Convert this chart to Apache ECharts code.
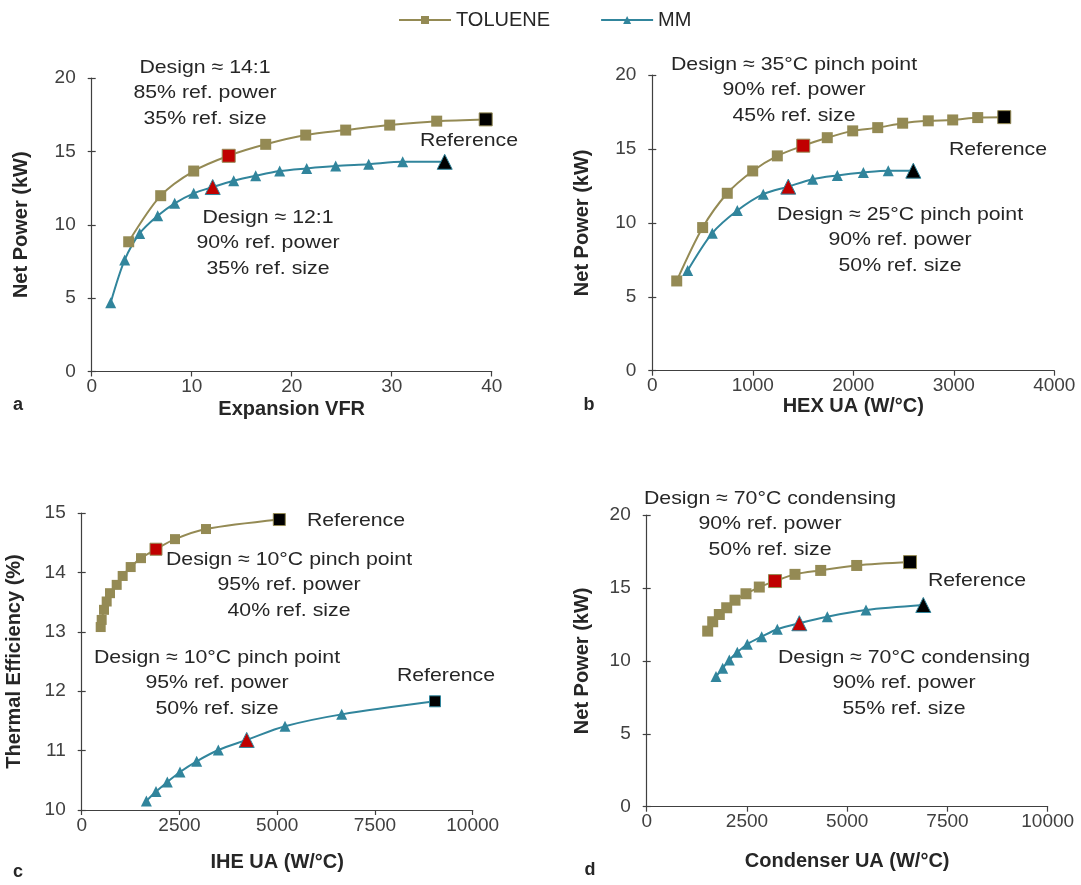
<!DOCTYPE html>
<html><head><meta charset="utf-8">
<script src="https://cdn.jsdelivr.net/npm/echarts@6/dist/echarts.min.js"></script>
<style>html,body{margin:0;padding:0;background:#fff}#c{width:1081px;height:885px}</style>
</head><body><div id="c"></div>
<script>
// ---- data ----
// Panel a: Net Power vs Expansion VFR
const aTolX = [3.7, 6.9, 10.2, 13.7, 17.4, 21.4, 25.4, 29.8, 34.5, 39.4];
const aTolY = [8.84, 11.98, 13.66, 14.7, 15.48, 16.11, 16.45, 16.79, 17.06, 17.18];
const aMmX = [1.9, 3.3, 4.8, 6.6, 8.3, 10.2, 12.1, 14.2, 16.4, 18.8, 21.5, 24.4, 27.7, 31.1, 35.3];
const aMmY = [4.69, 7.6, 9.41, 10.61, 11.46, 12.14, 12.57, 13.0, 13.34, 13.66, 13.84, 14.0, 14.13, 14.29, 14.29];
// Panel b: Net Power vs HEX UA
const bTolX = [243, 501, 746, 999, 1244, 1502, 1741, 1994, 2243, 2491, 2746, 2989, 3238, 3502];
const bTolY = [6.07, 9.68, 12.0, 13.51, 14.53, 15.22, 15.76, 16.22, 16.44, 16.74, 16.9, 16.96, 17.12, 17.15];
const bMmX = [352, 597, 846, 1104, 1353, 1596, 1841, 2100, 2348, 2597];
const bMmY = [6.77, 9.3, 10.83, 11.94, 12.45, 12.95, 13.2, 13.4, 13.53, 13.53];
// Panel c: Thermal efficiency vs IHE UA
const cTolX = [486, 511, 570, 639, 724, 895, 1048, 1253, 1517, 1900, 2386, 3179, 5054];
const cTolY = [13.08, 13.2, 13.37, 13.51, 13.65, 13.79, 13.94, 14.09, 14.24, 14.39, 14.56, 14.73, 14.89];
const cMmX = [1654, 1900, 2189, 2514, 2941, 3494, 4220, 5200, 6650, 9036];
const cMmY = [10.15, 10.31, 10.47, 10.64, 10.82, 11.01, 11.18, 11.41, 11.61, 11.83];
// Panel d: Net Power vs Condenser UA
const dTolX = [1521, 1646, 1811, 1995, 2202, 2476, 2808, 3200, 3698, 4339, 5237, 6566];
const dTolY = [12.04, 12.68, 13.18, 13.64, 14.16, 14.6, 15.06, 15.47, 15.93, 16.2, 16.54, 16.77];
const dMmX = [1728, 1895, 2060, 2259, 2509, 2868, 3257, 3806, 4504, 5469, 6898];
const dMmY = [8.92, 9.49, 10.06, 10.59, 11.14, 11.66, 12.17, 12.58, 13.03, 13.49, 13.83];
// design point index for each series (red marker); last point is the reference (black)
const designIdx = {aTol: 3, aMm: 6, bTol: 5, bMm: 4, cTol: 9, cMm: 6, dTol: 7, dMm: 7};
// axis ticks [min, max, interval]
const aXTicks = [0, 40, 10], aYTicks = [0, 20, 5];
const bXTicks = [0, 4000, 1000], bYTicks = [0, 20, 5];
const cXTicks = [0, 10000, 2500], cYTicks = [10, 15, 1];
const dXTicks = [0, 10000, 2500], dYTicks = [0, 20, 5];
const seriesNames = ['TOLUENE', 'MM'];
const panelTitles = {
  a: ['Expansion VFR', 'Net Power (kW)'],
  b: ['HEX UA (W/°C)', 'Net Power (kW)'],
  c: ['IHE UA (W/°C)', 'Thermal Efficiency (%)'],
  d: ['Condenser UA (W/°C)', 'Net Power (kW)']
};

// ---- styling ----
const FONT = 'Liberation Sans, Arial, sans-serif';
const TOL_C = '#948A54', MM_C = '#31859C';
const TXT = '#262626', AX = '#404040';

const grids = [
  {left: 91.7, top: 78, width: 400, height: 293.5},
  {left: 652.3, top: 75, width: 402, height: 295.7},
  {left: 81.7, top: 513, width: 391, height: 297},
  {left: 646.7, top: 515, width: 401, height: 291.7}
];
const xGaps = [28, 24, 42, 45];
const yGaps = [60, 60, 57, 54];
const keys = ['a', 'b', 'c', 'd'];
const xT = [aXTicks, bXTicks, cXTicks, dXTicks];
const yT = [aYTicks, bYTicks, cYTicks, dYTicks];

const xAxis = [], yAxis = [];
keys.forEach((k, i) => {
  xAxis.push({
    type: 'value', gridIndex: i, min: xT[i][0], max: xT[i][1], interval: xT[i][2],
    name: panelTitles[k][0], nameLocation: 'middle', nameGap: xGaps[i],
    nameTextStyle: {fontFamily: FONT, fontSize: 20, fontWeight: 'bold', color: TXT},
    axisLine: {show: true, onZero: false, lineStyle: {color: AX, width: 1.2}},
    axisTick: {show: true, inside: false, length: 5, lineStyle: {color: AX, width: 1.2}},
    axisLabel: {fontFamily: FONT, fontSize: 19, color: '#404040', margin: 6, formatter: v => String(v)},
    splitLine: {show: false}
  });
  yAxis.push({
    type: 'value', gridIndex: i, min: yT[i][0], max: yT[i][1], interval: yT[i][2],
    name: panelTitles[k][1], nameLocation: 'middle', nameGap: yGaps[i], nameRotate: 90,
    nameTextStyle: {fontFamily: FONT, fontSize: 20, fontWeight: 'bold', color: TXT},
    axisLine: {show: true, onZero: false, lineStyle: {color: AX, width: 1.2}},
    axisTick: {show: true, inside: false, length: 4, lineStyle: {color: AX, width: 1.2}},
    axisLabel: {fontFamily: FONT, fontSize: 19, color: '#404040', margin: 16, formatter: v => String(v)},
    splitLine: {show: false}
  });
});
// secondary y-axes to give "cross" tick marks
keys.forEach((k, i) => {
  yAxis.push({
    type: 'value', gridIndex: i, min: yT[i][0], max: yT[i][1], interval: yT[i][2], position: 'left',
    axisLine: {show: false}, axisLabel: {show: false}, splitLine: {show: false},
    axisTick: {show: true, inside: true, length: 4, lineStyle: {color: AX, width: 1.2}}
  });
});

function pts(xs, ys, di, color) {
  return xs.map((x, j) => {
    const d = {value: [x, ys[j]]};
    if (j === di) d.itemStyle = {color: '#C00000', borderColor: color, borderWidth: 1};
    if (j === xs.length - 1) d.itemStyle = {color: '#000000', borderColor: color, borderWidth: 1};
    return d;
  });
}

const series = [];
const dataSets = [
  [aTolX, aTolY, aMmX, aMmY],
  [bTolX, bTolY, bMmX, bMmY],
  [cTolX, cTolY, cMmX, cMmY],
  [dTolX, dTolY, dMmX, dMmY]
];
const tolSize = [11, 11, 10, 11];
const mmSize = [11, 11, 11, 11];
keys.forEach((k, i) => {
  const [tx, ty, mx, my] = dataSets[i];
  const tolData = pts(tx, ty, designIdx[k + 'Tol'], TOL_C);
  const mmData = pts(mx, my, designIdx[k + 'Mm'], MM_C);
  tolData.forEach(d => { d.symbolSize = (d.itemStyle ? tolSize[i] + 2 : tolSize[i]); });
  mmData.forEach(d => { d.symbolSize = (d.itemStyle ? mmSize[i] + 4 : mmSize[i]); });
  // panel c: MM reference marker is a square
  if (k === 'c') { mmData[mmData.length - 1].symbol = 'rect'; mmData[mmData.length - 1].symbolSize = 11; }
  series.push({
    name: seriesNames[0], type: 'line', xAxisIndex: i, yAxisIndex: i, data: tolData,
    smooth: 0.3, symbol: 'rect', symbolSize: tolSize[i], showAllSymbol: true,
    lineStyle: {color: TOL_C, width: 2}, itemStyle: {color: TOL_C}, z: 3, animation: false
  });
  series.push({
    name: seriesNames[1], type: 'line', xAxisIndex: i, yAxisIndex: i, data: mmData,
    smooth: 0.3, symbol: 'triangle', symbolSize: mmSize[i], showAllSymbol: true,
    lineStyle: {color: MM_C, width: 2}, itemStyle: {color: MM_C}, z: 3, animation: false
  });
});

function note(x, y, text) {
  return {type: 'text', x: x, y: y, scaleX: 1.12, scaleY: 1,
    style: {text: text, fill: TXT, font: '19px ' + FONT, textAlign: 'center', textVerticalAlign: 'middle', lineHeight: 25.5}};
}
const graphic = [
  note(205, 93, 'Design ≈ 14:1\n85% ref. power\n35% ref. size'),
  note(469, 141, 'Reference'),
  note(268, 243, 'Design ≈ 12:1\n90% ref. power\n35% ref. size'),
  note(794, 90, 'Design ≈ 35°C pinch point\n90% ref. power\n45% ref. size'),
  note(998, 150, 'Reference'),
  note(900, 240, 'Design ≈ 25°C pinch point\n90% ref. power\n50% ref. size'),
  note(356, 521, 'Reference'),
  note(289, 585, 'Design ≈ 10°C pinch point\n95% ref. power\n40% ref. size'),
  note(217, 683, 'Design ≈ 10°C pinch point\n95% ref. power\n50% ref. size'),
  note(446, 676, 'Reference'),
  note(770, 524, 'Design ≈ 70°C condensing\n90% ref. power\n50% ref. size'),
  note(977, 581, 'Reference'),
  note(904, 683, 'Design ≈ 70°C condensing\n90% ref. power\n55% ref. size'),
];
[['a', 18, 405], ['b', 589, 405], ['c', 18, 872], ['d', 590, 870]].forEach(([t, x, y]) => {
  graphic.push({type: 'text', x: x, y: y,
    style: {text: t, fill: TXT, font: 'bold 18px ' + FONT, textAlign: 'center', textVerticalAlign: 'middle'}});
});

const chart = echarts.init(document.getElementById('c'), null, {renderer: 'canvas'});
chart.setOption({
  animation: false,
  backgroundColor: '#ffffff',
  legend: {
    top: 5, left: 393, itemWidth: 52, itemHeight: 10, itemGap: 50,
    data: seriesNames,
    textStyle: {fontFamily: FONT, fontSize: 20, color: TXT}
  },
  grid: grids.map(g => Object.assign({containLabel: false}, g)),
  xAxis: xAxis, yAxis: yAxis, series: series, graphic: graphic
});
</script></body></html>
